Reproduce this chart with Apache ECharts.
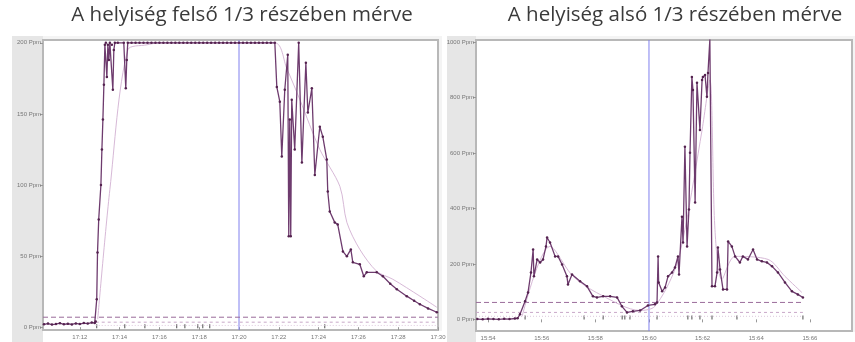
<!DOCTYPE html>
<html><head><meta charset="utf-8">
<script src="https://cdn.jsdelivr.net/npm/echarts@6/dist/echarts.min.js"></script>
<style>html,body{margin:0;padding:0;background:#fff}#c{width:855px;height:342px}</style>
</head><body><div id="c"></div>
<script>
// ---- titles ----
const titleLeft = 'A helyiség felső 1/3 részében mérve';
const titleRight = 'A helyiség alsó 1/3 részében mérve';

// ---- left panel (minutes after 17:00, ppm) ----
const leftXTicks = [12,14,16,18,20,22,24,26,28,30];
const leftYTicks = [0,50,100,150,200];
const leftMain = [
 [10.2,2.0],[10.4,2.5],[10.6,1.8],[10.8,2.2],[11.0,2.8],[11.2,2.0],[11.4,2.4],[11.6,1.9],[11.8,2.6],[12.0,2.2],
 [12.2,2.9],[12.4,2.5],[12.6,3.2],[12.75,3.0],[12.8,4],[12.85,19.6],[12.89,52.6],[12.95,75.8],[13.06,100],[13.11,125],
 [13.16,146],[13.21,170.5],[13.26,198.6],[13.31,200],[13.36,176],[13.41,198.6],[13.46,188],[13.51,200],[13.61,198.6],[13.66,167],
 [13.71,195],[13.76,200],[13.91,200],[14.21,200],[14.31,168],[14.36,188],[14.41,200],
 [14.6,200],[14.8,200],[15.0,200],[15.2,200],[15.4,200],[15.6,200],[15.8,200],[16.0,200],[16.2,200],[16.4,200],
 [16.6,200],[16.8,200],[17.0,200],[17.2,200],[17.4,200],[17.6,200],[17.8,200],[18.0,200],[18.2,200],[18.4,200],
 [18.6,200],[18.8,200],[19.0,200],[19.2,200],[19.4,200],[19.6,200],[19.8,200],[20.0,200],[20.2,200],[20.4,200],
 [20.6,200],[20.8,200],[21.0,200],[21.2,200],[21.4,200],[21.6,200],[21.8,200],
 [21.9,169],[22.05,158.6],[22.15,120],[22.3,167],[22.45,191.6],
 [22.5,64],[22.55,146],[22.6,64],[22.65,160],[22.8,125],[23.0,200],[23.16,115.8],[23.36,186],[23.46,151],[23.66,168],
 [23.81,107],[24.06,141],[24.21,134],[24.41,118],[24.46,95.4],[24.56,81.4],[24.81,73.7],[24.96,72.3],[25.22,53.3],[25.42,49.8],
 [25.62,54.7],[25.72,45.6],[26.07,44.2],[26.27,35.8],[26.42,38.6],[26.92,38.6],[27.23,35.8],[27.6,30.5],[27.93,26.7],[28.43,21.8],
 [28.8,18.6],[29.09,16.1],[29.5,13.2],[29.94,10.5]
];
const leftAvg = [
 [12.9,5.6],[13.51,96.8],[14.41,195],[15.37,198.6],[16,200],[21.8,200],[22.4,182],[23.06,160],[24.06,125],[25.07,99],
 [25.42,73.7],[26.07,54.7],[26.92,39.3],[27.73,33.7],[29.09,21.8],[29.94,14]
];
const leftLimitHigh = [[10.15,7],[30,7]];
const leftLimitMid = [[12.8,3.5],[30,3.5]];
const leftLimitLow = [[12.8,1.2],[30,1.2]];
const leftEvents = [[12.85,0.7],[14.26,0.7],[15.27,0.7],[16.87,0.7],[17.28,0.7],[17.93,0.7],[18.18,0.7],[18.53,0.7],[24.31,0.7]];
const leftCursor = [[20,-2],[20,202]];

// ---- right panel (minutes after 15:00, ppm) ----
const rightXTicks = [54,56,58,60,62,64,66];
const rightYTicks = [0,200,400,600,800,1000];
const rightMain = [
 [53.6,1],[53.8,0],[54.0,2],[54.2,1],[54.4,0],[54.6,2],[54.8,1],[55.0,3],[55.1,4],[55.19,18],
 [55.38,65],[55.49,97],[55.6,169],[55.68,252],[55.71,155],[55.83,216],[55.94,205],[56.05,216],[56.16,263],[56.2,295],
 [56.31,277],[56.5,227],[56.61,227],[56.76,198],[56.94,155],[56.98,126],[57.13,162],[57.43,137],[57.69,119],[57.91,83],
 [58.06,79],[58.29,83],[58.55,83],[58.81,79],[58.99,47],[59.18,25],[59.4,29],[59.67,32],[59.96,50],[60.22,54],
 [60.3,61],[60.34,227],[60.36,133],[60.49,101],[60.6,115],[60.71,155],[60.86,169],[60.97,187],[61.08,227],[61.12,162],
 [61.23,370],[61.27,277],[61.34,622],[61.42,263],[61.49,396],[61.53,601],[61.6,874],[61.64,827],[61.72,421],[61.79,853],
 [61.9,683],[61.98,863],[62.01,874],[62.09,881],[62.16,802],[62.2,888],[62.27,1010],[62.35,119],[62.46,119],[62.54,169],
 [62.57,259],[62.65,180],[62.76,108],[62.91,108],[62.95,281],[63.09,263],[63.21,227],[63.39,205],[63.5,227],[63.69,216],
 [63.88,252],[64.03,216],[64.21,209],[64.4,205],[64.59,191],[64.81,169],[65.07,133],[65.33,101],[65.55,90],[65.74,79]
];
const rightAvg = [
 [55.27,11],[56.31,263],[57.17,155],[58.17,90],[59.67,32],[60.22,47],[60.97,180],[61.34,324],[61.98,683],[62.27,863],
 [62.46,324],[62.72,144],[63.21,227],[64.44,216],[65.07,155],[65.7,97]
];
const rightLimitHigh = [[53.55,61],[65.74,61]];
const rightLimitMid = [[53.55,25],[65.74,25]];
const rightLimitLow = [[53.55,11],[65.74,11]];
const rightEvents = [[55.38,7],[57.58,7],[58.29,7],[59.0,7],[59.1,7],[59.29,7],[60.3,7],[61.45,7],[61.6,7],[61.9,7],[62.35,7],[63.28,7],[65.74,7]];
const rightCursor = [[60,-42],[60,1007]];

const pad2 = n => (n < 10 ? '0' : '') + n;
const DARK = '#54224f', LIGHT = '#d7b9d7';

function xAxisCfg(idx, min, max, ticks, hour) {
  return {
    type: 'value', gridIndex: idx, min: min, max: max,
    axisLine: { show: false },
    axisTick: { show: true, customValues: ticks, length: 3, lineStyle: { color: '#999' } },
    axisLabel: { customValues: ticks, fontSize: 6, color: '#777', margin: 4,
      formatter: v => hour + ':' + pad2(Math.round(v)) },
    splitLine: { show: false }
  };
}
function yAxisCfg(idx, min, max, ticks) {
  return {
    type: 'value', gridIndex: idx, min: min, max: max,
    axisLine: { show: false },
    axisTick: { show: true, customValues: ticks, length: 3, lineStyle: { color: '#999' } },
    axisLabel: { customValues: ticks, fontSize: 6, color: '#777', margin: 2,
      formatter: v => v + ' Ppm' },
    splitLine: { show: false }
  };
}
function panelSeries(ai, main, avg, hi, mid, low, ev, cursor) {
  return [
    { type: 'line', xAxisIndex: ai, yAxisIndex: ai, data: cursor, symbol: 'none', silent: true,
      lineStyle: { color: '#8080ee', width: 1 } },
    { type: 'line', xAxisIndex: ai, yAxisIndex: ai, data: hi, symbol: 'none', silent: true,
      lineStyle: { color: '#9a6b9a', width: 1, type: [5, 3] } },
    { type: 'line', xAxisIndex: ai, yAxisIndex: ai, data: mid, symbol: 'none', silent: true,
      lineStyle: { color: '#c8a8c8', width: 1, type: [3, 3] } },
    { type: 'line', xAxisIndex: ai, yAxisIndex: ai, data: low, symbol: 'none', silent: true,
      lineStyle: { color: '#ddc8dd', width: 1, type: [1, 2] } },
    { type: 'line', xAxisIndex: ai, yAxisIndex: ai, data: avg, symbol: 'none', smooth: 0.3, silent: true,
      lineStyle: { color: LIGHT, width: 1 } },
    { type: 'line', xAxisIndex: ai, yAxisIndex: ai, data: main, symbol: 'circle', symbolSize: 2.5,
      itemStyle: { color: DARK }, lineStyle: { color: '#6e3b6e', width: 1.3 } },
    { type: 'scatter', xAxisIndex: ai, yAxisIndex: ai, data: ev, symbol: 'rect', symbolSize: [1, 4],
      itemStyle: { color: '#222' }, silent: true }
  ];
}

const chart = echarts.init(document.getElementById('c'), null, { renderer: 'canvas' });
chart.setOption({
  animation: false,
  backgroundColor: '#ffffff',
  title: [
    { text: titleLeft, left: 237, top: 0, textAlign: 'center',
      textStyle: { fontFamily: 'Open Sans', fontSize: 20.5, fontWeight: 'normal', color: '#3a3a3a' } },
    { text: titleRight, left: 670, top: 0, textAlign: 'center',
      textStyle: { fontFamily: 'Open Sans', fontSize: 20.5, fontWeight: 'normal', color: '#3a3a3a' } }
  ],
  graphic: [
    { type: 'rect', z: -10, shape: { x: 12, y: 36, width: 430, height: 306 }, style: { fill: '#f4f4f4' } },
    { type: 'rect', z: -10, shape: { x: 447, y: 36, width: 408, height: 306 }, style: { fill: '#f4f4f4' } },
    { type: 'rect', z: -9, shape: { x: 12, y: 36, width: 31, height: 306 }, style: { fill: '#e6e6e6' } },
    { type: 'rect', z: -9, shape: { x: 447, y: 36, width: 29, height: 306 }, style: { fill: '#e6e6e6' } },
    { type: 'rect', z: -8, shape: { x: 43, y: 331, width: 399, height: 11 }, style: { fill: '#ffffff' } },
    { type: 'rect', z: -8, shape: { x: 476, y: 332, width: 379, height: 10 }, style: { fill: '#ffffff' } }
  ],
  grid: [
    { left: 43, top: 40, width: 395, height: 290, show: true, backgroundColor: '#fff',
      borderColor: '#b8b8b8', borderWidth: 2 },
    { left: 476, top: 40, width: 376, height: 291, show: true, backgroundColor: '#fff',
      borderColor: '#b8b8b8', borderWidth: 2 }
  ],
  xAxis: [ xAxisCfg(0, 10.15, 30, leftXTicks, '17'), xAxisCfg(1, 53.55, 67.57, rightXTicks, '15') ],
  yAxis: [ yAxisCfg(0, -2, 202, leftYTicks), yAxisCfg(1, -42, 1007, rightYTicks) ],
  series: [].concat(
    panelSeries(0, leftMain, leftAvg, leftLimitHigh, leftLimitMid, leftLimitLow, leftEvents, leftCursor),
    panelSeries(1, rightMain, rightAvg, rightLimitHigh, rightLimitMid, rightLimitLow, rightEvents, rightCursor)
  )
});
</script></body></html>
